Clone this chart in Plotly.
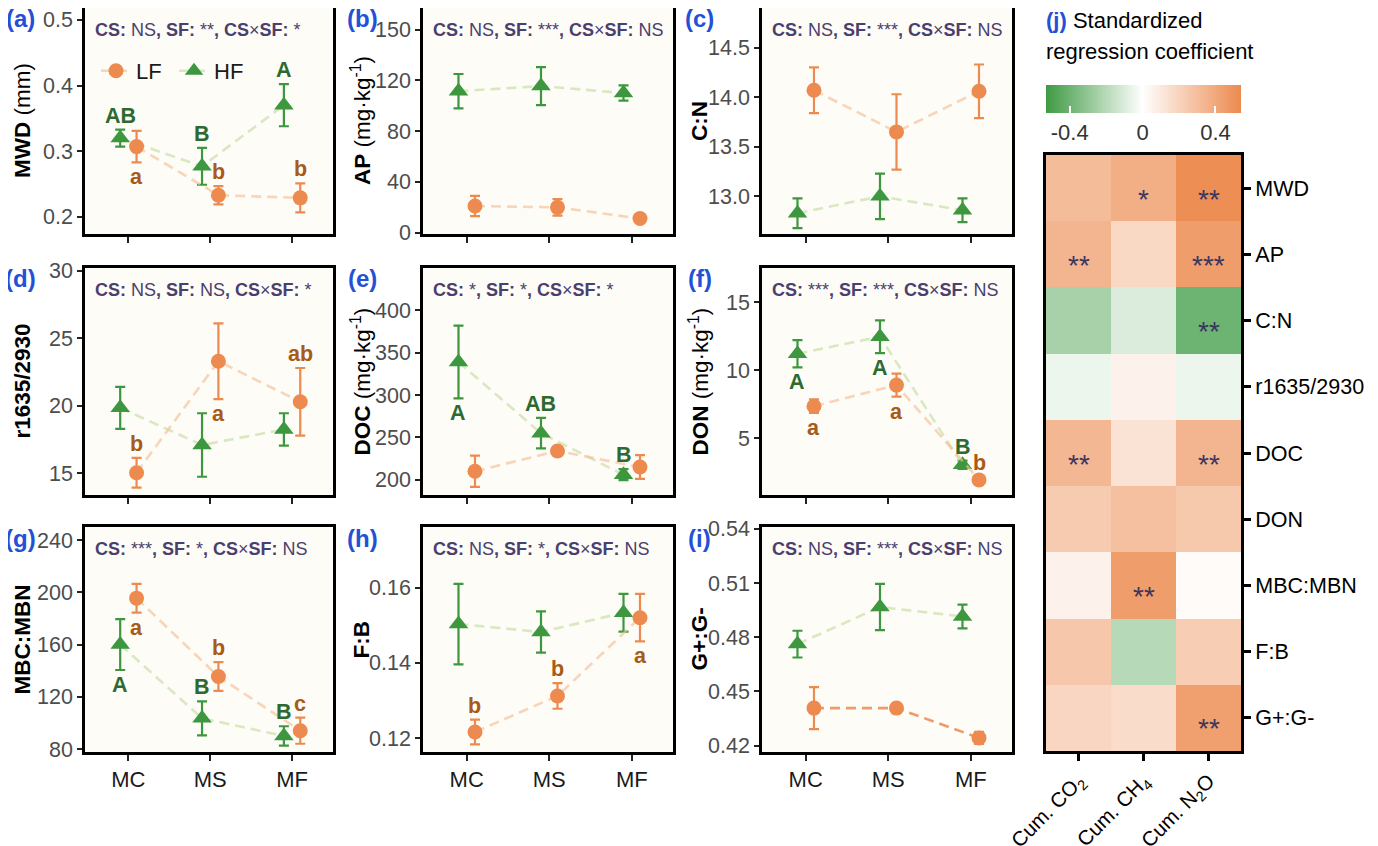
import plotly.graph_objects as go

W, H = 1378, 846

# ---------------- data ----------------
sites = ["MC", "MS", "MF"]

mwd_lf = [0.307, 0.233, 0.229]; mwd_lf_se = [0.024, 0.014, 0.022]
mwd_hf = [0.320, 0.277, 0.370]; mwd_hf_se = [0.013, 0.028, 0.032]
mwd_lf_let = ["a", "b", "b"]; mwd_hf_let = ["AB", "B", "A"]
mwd_stats = ["NS", "**", "*"]

ap_lf = [21.0, 20.0, 11.2]; ap_lf_se = [8.0, 6.5, 2.0]
ap_hf = [111.5, 115.5, 110.0]; ap_hf_se = [13.5, 15.0, 6.0]
ap_lf_let = ["", "", ""]; ap_hf_let = ["", "", ""]
ap_stats = ["NS", "***", "NS"]

cn_lf = [14.07, 13.65, 14.06]; cn_lf_se = [0.23, 0.38, 0.27]
cn_hf = [12.83, 13.00, 12.86]; cn_hf_se = [0.15, 0.23, 0.12]
cn_lf_let = ["", "", ""]; cn_hf_let = ["", "", ""]
cn_stats = ["NS", "***", "NS"]

r_lf = [15.05, 23.3, 20.3]; r_lf_se = [1.1, 2.8, 2.5]
r_hf = [19.85, 17.1, 18.25]; r_hf_se = [1.55, 2.35, 1.2]
r_lf_let = ["b", "a", "ab"]; r_hf_let = ["", "", ""]
r_stats = ["NS", "NS", "*"]

doc_lf = [210, 234, 215]; doc_lf_se = [18.5, 4, 14]
doc_hf = [339, 255, 206]; doc_hf_se = [43, 18, 6.5]
doc_lf_let = ["", "", ""]; doc_hf_let = ["A", "AB", "B"]
doc_stats = ["*", "*", "*"]

don_lf = [7.35, 8.9, 1.94]; don_lf_se = [0.5, 0.85, 0.2]
don_hf = [11.2, 12.45, 3.05]; don_hf_se = [1.0, 1.2, 0.3]
don_lf_let = ["a", "a", "b"]; don_hf_let = ["A", "A", "B"]
don_stats = ["***", "***", "NS"]

mbc_lf = [195.5, 135.5, 94]; mbc_lf_se = [11, 11, 10]
mbc_hf = [160, 103.5, 90]; mbc_hf_se = [19.5, 13, 7.4]
mbc_lf_let = ["a", "b", "c"]; mbc_hf_let = ["A", "B", "B"]
mbc_stats = ["***", "*", "NS"]

fb_lf = [0.1216, 0.1312, 0.1520]; fb_lf_se = [0.0033, 0.0034, 0.0063]
fb_hf = [0.1503, 0.1482, 0.1533]; fb_hf_se = [0.0107, 0.0055, 0.0050]
fb_lf_let = ["b", "b", "a"]; fb_hf_let = ["", "", ""]
fb_stats = ["NS", "*", "NS"]

gg_lf = [0.4408, 0.4408, 0.4243]; gg_lf_se = [0.0116, 0.001, 0.0033]
gg_hf = [0.4762, 0.4967, 0.4915]; gg_hf_se = [0.0074, 0.0128, 0.0066]
gg_lf_let = ["", "", ""]; gg_hf_let = ["", "", ""]
gg_stats = ["NS", "***", "NS"]

# heatmap
resp_vars = ["MWD", "AP", "C:N", "r1635/2930", "DOC", "DON", "MBC:MBN", "F:B", "G+:G-"]
gas_labels = ["Cum. CO<sub>2</sub>", "Cum. CH<sub>4</sub>", "Cum. N<sub>2</sub>O"]
coef_co2 = [0.31, 0.34, -0.24, -0.05, 0.33, 0.24, 0.06, 0.26, 0.19]
coef_ch4 = [0.37, 0.18, -0.10, 0.06, 0.13, 0.29, 0.45, -0.20, 0.16]
coef_n2o = [0.52, 0.45, -0.40, -0.05, 0.34, 0.25, 0.02, 0.23, 0.44]
sig_co2 = ["", "**", "", "", "**", "", "", "", ""]
sig_ch4 = ["*", "", "", "", "", "", "**", "", ""]
sig_n2o = ["**", "***", "**", "", "**", "", "", "", "**"]

# ---------------- style ----------------
FONT = "Arial, Liberation Sans, sans-serif"
LF_COL = "#EC8A50"
HF_COL = "#3C973F"
LF_LINE = "rgba(246,190,150,0.65)"
HF_LINE = "rgba(205,225,175,0.75)"
LF_TXT = "#A85A18"
HF_TXT = "#2D6A31"
TAG_COL = "#2350D6"
STAT_COL = "#4A3F6E"
DODGE = 0.1
OFF = 8  # page offset of the plot div

def fx(px):
    return (px - OFF) / W

def fy(py):
    return 1 - (py - OFF) / H

col_x = [(85, 333), (423, 673), (762, 1012)]
row_y = [(8, 234), (268, 495), (527, 752)]
title_x = [22, 361, 699]
tag_x = [20, 362, 700]

panels = [
    dict(tag="(a)", lf=mwd_lf, lfse=mwd_lf_se, hf=mwd_hf, hfse=mwd_hf_se, lflet=mwd_lf_let,
         hflet=mwd_hf_let, lfpos="duu", hfpos="uuu", stats=mwd_stats,
         ytitle="<b>MWD</b> (mm)", yr=[0.174, 0.518], tv=[0.2, 0.3, 0.4, 0.5], tt=None),
    dict(tag="(b)", lf=ap_lf, lfse=ap_lf_se, hf=ap_hf, hfse=ap_hf_se, lflet=ap_lf_let,
         hflet=ap_hf_let, lfpos="uuu", hfpos="uuu", stats=ap_stats,
         ytitle="<b>AP</b> (mg·kg<sup>-1</sup>)", yr=[-1, 177], tv=[0, 40, 80, 120, 160],
         tt=["0", "40", "80", "120", "150"]),
    dict(tag="(c)", lf=cn_lf, lfse=cn_lf_se, hf=cn_hf, hfse=cn_hf_se, lflet=cn_lf_let,
         hflet=cn_hf_let, lfpos="uuu", hfpos="uuu", stats=cn_stats,
         ytitle="<b>C:N</b>", yr=[12.62, 14.9], tv=[13.0, 13.5, 14.0, 14.5],
         tt=["13.0", "13.5", "14.0", "14.5"]),
    dict(tag="(d)", lf=r_lf, lfse=r_lf_se, hf=r_hf, hfse=r_hf_se, lflet=r_lf_let,
         hflet=r_hf_let, lfpos="udu", hfpos="uuu", stats=r_stats,
         ytitle="<b>r1635/2930</b>", yr=[13.4, 30.2], tv=[15, 20, 25, 30], tt=None),
    dict(tag="(e)", lf=doc_lf, lfse=doc_lf_se, hf=doc_hf, hfse=doc_hf_se, lflet=doc_lf_let,
         hflet=doc_hf_let, lfpos="uuu", hfpos="duu", stats=doc_stats,
         ytitle="<b>DOC</b> (mg·kg<sup>-1</sup>)", yr=[182, 450], tv=[200, 250, 300, 350, 400], tt=None),
    dict(tag="(f)", lf=don_lf, lfse=don_lf_se, hf=don_hf, hfse=don_hf_se, lflet=don_lf_let,
         hflet=don_hf_let, lfpos="ddu", hfpos="ddu", stats=don_stats,
         ytitle="<b>DON</b> (mg·kg<sup>-1</sup>)", yr=[0.83, 17.5], tv=[5, 10, 15], tt=None),
    dict(tag="(g)", lf=mbc_lf, lfse=mbc_lf_se, hf=mbc_hf, hfse=mbc_hf_se, lflet=mbc_lf_let,
         hflet=mbc_hf_let, lfpos="duu", hfpos="duu", stats=mbc_stats,
         ytitle="<b>MBC:MBN</b>", yr=[77.7, 250], tv=[80, 120, 160, 200, 240], tt=None),
    dict(tag="(h)", lf=fb_lf, lfse=fb_lf_se, hf=fb_hf, hfse=fb_hf_se, lflet=fb_lf_let,
         hflet=fb_hf_let, lfpos="uud", hfpos="uuu", stats=fb_stats,
         ytitle="<b>F:B</b>", yr=[0.1163, 0.1761], tv=[0.12, 0.14, 0.16],
         tt=["0.12", "0.14", "0.16"]),
    dict(tag="(i)", lf=gg_lf, lfse=gg_lf_se, hf=gg_hf, hfse=gg_hf_se, lflet=gg_lf_let,
         hflet=gg_hf_let, lfpos="uuu", hfpos="uuu", stats=gg_stats,
         ytitle="<b>G+:G-</b>", yr=[0.4165, 0.541], tv=[0.42, 0.45, 0.48, 0.51, 0.54],
         tt=["0.42", "0.45", "0.48", "0.51", "0.54"], lfline="rgba(236,138,80,0.85)"),
]

fig = go.Figure()
annotations = []
layout = {}

for k, p in enumerate(panels):
    r, c = divmod(k, 3)
    n = k + 1
    xs = "x" if n == 1 else f"x{n}"
    ys = "y" if n == 1 else f"y{n}"
    xkey = "xaxis" if n == 1 else f"xaxis{n}"
    ykey = "yaxis" if n == 1 else f"yaxis{n}"
    x0, x1 = col_x[c]
    y0, y1 = row_y[r]
    idx = list(range(len(sites)))

    # HF
    fig.add_trace(go.Scatter(
        x=[i - DODGE for i in idx], y=p["hf"], xaxis=xs, yaxis=ys, name="HF",
        mode="lines+markers", legendrank=2, showlegend=(k == 0),
        line=dict(color=HF_LINE, width=2.6, dash="10px,6px"),
        marker=dict(symbol="triangle-up", size=17, color=HF_COL),
        error_y=dict(type="data", array=p["hfse"], color=HF_COL, thickness=2.2, width=5),
    ))
    # LF
    fig.add_trace(go.Scatter(
        x=[i + DODGE for i in idx], y=p["lf"], xaxis=xs, yaxis=ys, name="LF",
        mode="lines+markers", legendrank=1, showlegend=(k == 0),
        line=dict(color=p.get("lfline", LF_LINE), width=2.6, dash="10px,6px"),
        marker=dict(symbol="circle", size=15, color=LF_COL),
        error_y=dict(type="data", array=p["lfse"], color=LF_COL, thickness=2.2, width=5),
    ))

    layout[xkey] = dict(
        domain=[fx(x0), fx(x1)], anchor=ys, range=[-0.53, 2.5], automargin=False,
        tickvals=idx, ticktext=sites, showticklabels=(r == 2),
        tickfont=dict(size=22, color="#1A1A1A", family=FONT),
        ticks="outside", ticklen=6, tickwidth=1.6, tickcolor="#222",
        showline=True, mirror=True, linecolor="black", linewidth=2.6,
        showgrid=False, zeroline=False,
    )
    ycfg = dict(
        domain=[fy(y1), fy(y0)], anchor=xs, range=p["yr"], tickvals=p["tv"], automargin=False,
        tickfont=dict(size=21.5, color="#4D4D4D", family=FONT),
        ticks="outside", ticklen=5, tickwidth=1.6, tickcolor="#222",
        showline=True, mirror=True, linecolor="black", linewidth=2.6,
        showgrid=False, zeroline=False,
    )
    if p["tt"] is not None:
        ycfg["ticktext"] = p["tt"]
    layout[ykey] = ycfg

    # panel tag
    annotations.append(dict(
        text=f"<b>{p['tag']}</b>", xref="paper", yref="paper", x=fx(tag_x[c]), y=fy(y0 + 11),
        xanchor="center", yanchor="middle", showarrow=False,
        font=dict(size=24, color=TAG_COL, family=FONT)))
    # y title
    annotations.append(dict(
        text=p["ytitle"], xref="paper", yref="paper", x=fx(title_x[c]), y=fy((y0 + y1) / 2),
        xanchor="center", yanchor="middle", textangle=-90, showarrow=False,
        font=dict(size=22.5, color="black", family=FONT)))
    # stats line
    s = p["stats"]
    stat_txt = (f"<b>CS:</b> {s[0]}<b>, SF:</b> {s[1]}<b>, CS</b>×<b>SF:</b> {s[2]}")
    annotations.append(dict(
        text=stat_txt, xref="paper", yref="paper", x=fx(x0 + 8), y=fy(y0 + 22),
        xanchor="left", yanchor="middle", showarrow=False,
        font=dict(size=18, color=STAT_COL, family=FONT)))
    # letters
    for series, vals, ses, lets, pos, off, col in (
        ("HF", p["hf"], p["hfse"], p["hflet"], p["hfpos"], -DODGE, HF_TXT),
        ("LF", p["lf"], p["lfse"], p["lflet"], p["lfpos"], DODGE, LF_TXT),
    ):
        for i, (v, e, t, ps) in enumerate(zip(vals, ses, lets, pos)):
            if not t:
                continue
            up = ps == "u"
            annotations.append(dict(
                text=f"<b>{t}</b>", xref=xs, yref=ys, x=i + off, y=(v + e) if up else (v - e),
                xanchor="center", yanchor="bottom" if up else "top", yshift=0 if up else -1,
                showarrow=False, font=dict(size=21.5, color=col, family=FONT)))

# ---------------- heatmap ----------------
z = [[a, b, c] for a, b, c in zip(coef_co2, coef_ch4, coef_n2o)]
fig.add_trace(go.Heatmap(
    z=z, x=gas_labels, y=resp_vars, xaxis="x10", yaxis="y10",
    zmin=-0.53, zmax=0.54,
    colorscale=[[0, "#3E9A43"], [0.495, "#FFFFFF"], [1, "#EC8A4E"]],
    showscale=True, hoverinfo="skip",
    colorbar=dict(
        orientation="h", x=fx(1046), xanchor="left", y=fy(85), yanchor="top",
        len=(1241 - 1046) / W, lenmode="fraction", thickness=28, xpad=0, ypad=0,
        outlinewidth=0, tickvals=[-0.4, 0, 0.4], ticktext=["-0.4", "0", "0.4"],
        ticks="inside", ticklen=7, tickcolor="white", tickwidth=1.5,
        tickfont=dict(size=22, color="#333", family=FONT),
    ),
))
layout["xaxis10"] = dict(
    domain=[fx(1046), fx(1241)], anchor="y10", tickangle=-45, automargin=False,
    tickfont=dict(size=20.5, color="black", family=FONT),
    ticks="outside", ticklen=7, tickwidth=2.5, tickcolor="black",
    showline=True, mirror=True, linecolor="black", linewidth=3, showgrid=False, zeroline=False,
)
layout["yaxis10"] = dict(
    domain=[fy(751), fy(155)], anchor="x10", side="right", autorange="reversed", automargin=False,
    tickfont=dict(size=21.5, color="black", family=FONT),
    ticks="outside", ticklen=7, tickwidth=2.5, tickcolor="black",
    showline=True, mirror=True, linecolor="black", linewidth=3, showgrid=False, zeroline=False,
)
for j, sig in enumerate((sig_co2, sig_ch4, sig_n2o)):
    for i, s in enumerate(sig):
        if s:
            annotations.append(dict(
                text=s, xref="x10", yref="y10", x=gas_labels[j], y=resp_vars[i],
                xanchor="center", yanchor="middle", yshift=-11, showarrow=False,
                font=dict(size=28, color="#3B3560", family=FONT)))

annotations.append(dict(
    text=f"<span style='color:{TAG_COL}'><b>(j)</b></span> Standardized",
    xref="paper", yref="paper", x=fx(1044), y=fy(20), xanchor="left", yanchor="middle",
    showarrow=False, font=dict(size=22, color="black", family=FONT)))
annotations.append(dict(
    text="regression coefficient",
    xref="paper", yref="paper", x=fx(1044), y=fy(51), xanchor="left", yanchor="middle",
    showarrow=False, font=dict(size=22, color="black", family=FONT)))

fig.update_layout(
    width=W, height=H, margin=dict(l=0, r=0, t=0, b=0, autoexpand=False),
    paper_bgcolor="white", plot_bgcolor="#FDFCF7",
    font=dict(family=FONT),
    showlegend=True,
    legend=dict(
        orientation="h", x=fx(96), y=fy(50), xanchor="left", yanchor="top",
        bgcolor="rgba(0,0,0,0)", font=dict(size=22, color="#1A1A1A", family=FONT),
        itemwidth=30, entrywidth=33, traceorder="normal",
    ),
    annotations=annotations,
    **layout,
)

fig.write_html("out.html")
